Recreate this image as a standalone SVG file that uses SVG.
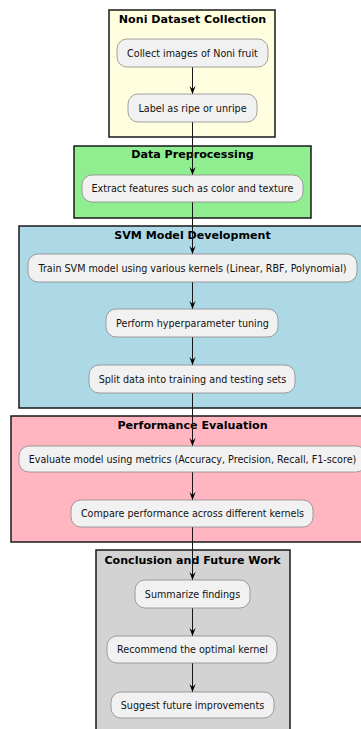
<svg xmlns="http://www.w3.org/2000/svg" width="361" height="729" viewBox="0 0 361 729">
<style>
.box{stroke:#181818;stroke-width:1.5}
.title{font-family:"DejaVu Sans",sans-serif;font-weight:bold;font-size:11.1px;fill:#000;text-anchor:middle}
.node rect{fill:#F1F1F1;stroke:#8a8a8a;stroke-width:0.8}
.node text{font-family:"DejaVu Sans",sans-serif;font-size:9.6px;fill:#111;text-anchor:middle}
.conn line{stroke:#181818;stroke-width:1}
.conn polygon{fill:#181818}
</style>
<defs>
<marker id="ah" viewBox="0 0 8 8" refX="8" refY="4" markerWidth="8" markerHeight="8" markerUnits="userSpaceOnUse" orient="auto">
<polygon points="0,0.9 8,4 0,7.1 3,4"/>
</marker>
</defs>
<g id="group-noni">
<rect class="box" x="109" y="10" width="166" height="127" fill="#FFFFE0"/>
<text class="title" x="192.5" y="23">Noni Dataset Collection</text>
</g>
<g id="group-prep">
<rect class="box" x="74" y="146" width="237" height="72" fill="#90EE90"/>
<text class="title" x="192.5" y="158">Data Preprocessing</text>
</g>
<g id="group-svm">
<rect class="box" x="19" y="226" width="347" height="182" fill="#ADD8E6"/>
<text class="title" x="192.5" y="238.5">SVM Model Development</text>
</g>
<g id="group-perf">
<rect class="box" x="11" y="416" width="363" height="126" fill="#FFB6C1"/>
<text class="title" x="192.5" y="429">Performance Evaluation</text>
</g>
<g id="group-concl">
<rect class="box" x="96" y="550" width="194" height="190" fill="#D3D3D3"/>
<text class="title" x="192.5" y="563.5">Conclusion and Future Work</text>
</g>
<g class="conn" id="connectors" fill="none">
<line x1="192.5" y1="67" x2="192.5" y2="94" marker-end="url(#ah)"/>
<line x1="192.5" y1="122" x2="192.5" y2="175" marker-end="url(#ah)"/>
<line x1="192.5" y1="202" x2="192.5" y2="254" marker-end="url(#ah)"/>
<line x1="192.5" y1="282" x2="192.5" y2="309" marker-end="url(#ah)"/>
<line x1="192.5" y1="337" x2="192.5" y2="365" marker-end="url(#ah)"/>
<line x1="192.5" y1="393" x2="192.5" y2="446" marker-end="url(#ah)"/>
<line x1="192.5" y1="472" x2="192.5" y2="500" marker-end="url(#ah)"/>
<line x1="192.5" y1="527" x2="192.5" y2="580" marker-end="url(#ah)"/>
<line x1="192.5" y1="608" x2="192.5" y2="636" marker-end="url(#ah)"/>
<line x1="192.5" y1="663" x2="192.5" y2="692" marker-end="url(#ah)"/>
</g>
<g class="node" id="n-collect"><rect x="117" y="39" width="151" height="28" rx="10"/><text x="192.5" y="56.5">Collect images of Noni fruit</text></g>
<g class="node" id="n-label"><rect x="128" y="94" width="129" height="28" rx="10"/><text x="192.5" y="111.5">Label as ripe or unripe</text></g>
<g class="node" id="n-extract"><rect x="82" y="175" width="221" height="27" rx="10"/><text x="192.5" y="192">Extract features such as color and texture</text></g>
<g class="node" id="n-train"><rect x="28" y="254" width="329" height="28" rx="10"/><text x="192.5" y="271.5">Train SVM model using various kernels (Linear, RBF, Polynomial)</text></g>
<g class="node" id="n-tune"><rect x="106" y="309" width="172" height="28" rx="10"/><text x="192.5" y="326.5">Perform hyperparameter tuning</text></g>
<g class="node" id="n-split"><rect x="89" y="365" width="206" height="28" rx="10"/><text x="192.5" y="382.5">Split data into training and testing sets</text></g>
<g class="node" id="n-eval"><rect x="19" y="446" width="347" height="26" rx="10"/><text x="192.5" y="462.5">Evaluate model using metrics (Accuracy, Precision, Recall, F1-score)</text></g>
<g class="node" id="n-compare"><rect x="71" y="500" width="242" height="27" rx="10"/><text x="192.5" y="517">Compare performance across different kernels</text></g>
<g class="node" id="n-summ"><rect x="135" y="580" width="115" height="28" rx="10"/><text x="192.5" y="597.5">Summarize findings</text></g>
<g class="node" id="n-recommend"><rect x="107" y="636" width="170" height="27" rx="10"/><text x="192.5" y="653">Recommend the optimal kernel</text></g>
<g class="node" id="n-suggest"><rect x="111" y="692" width="163" height="26" rx="10"/><text x="192.5" y="708.5">Suggest future improvements</text></g>
</svg>
